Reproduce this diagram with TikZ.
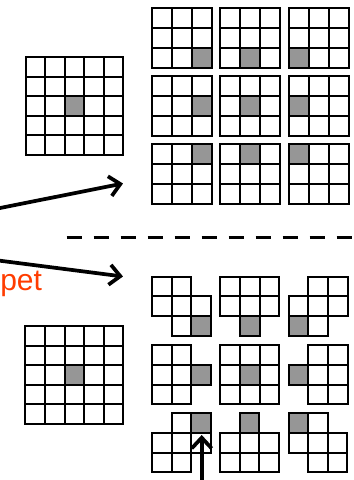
\documentclass[tikz,border=0pt]{standalone}
\usepackage{fontspec}
\setmainfont{Liberation Sans}
\usetikzlibrary{arrows.meta}
\definecolor{cellgray}{RGB}{150,150,150}
\definecolor{petred}{RGB}{255,60,0}
\tikzset{
  cellline/.style={draw=black, line width=1.5pt},
  bigarrow/.style={line width=2.8pt, -{Straight Barb[length=8pt,width=15pt,line width=2.8pt]}},
  sepline/.style={line width=2.5pt, dash pattern=on 11.25pt off 9pt},
}
\newcommand\drawpatch[6]{%
  \edef\plist{#4}%
  \foreach \c/\r in \plist{%
    \draw[cellline, fill=white] ({#1+(\c-1)*#3},{#2+(\r-1)*#3}) rectangle ++(#3,#3);
  }%
  \draw[cellline, fill=cellgray] ({#1+(#5-1)*#3},{#2+(#6-1)*#3}) rectangle ++(#3,#3);
}
\begin{document}
\begin{tikzpicture}[x=0.75pt,y=-0.75pt]
\useasboundingbox (0,0) rectangle (354,480);
\def\full{1/1,2/1,3/1,1/2,2/2,3/2,1/3,2/3,3/3}
\def\fivefull{1/1,2/1,3/1,4/1,5/1,1/2,2/2,3/2,4/2,5/2,1/3,2/3,3/3,4/3,5/3,1/4,2/4,3/4,4/4,5/4,1/5,2/5,3/5,4/5,5/5}
% left 5x5 grids
\drawpatch{26}{57}{19.5}{\fivefull}{3}{3}
\drawpatch{25.5}{326}{19.6}{\fivefull}{3}{3}
% top 3x3 grids
\drawpatch{152}{7.5}{20}{\full}{3}{3}
\drawpatch{220.3}{7.5}{20}{\full}{2}{3}
\drawpatch{288.7}{7.5}{20}{\full}{1}{3}
\drawpatch{152}{75.7}{20}{\full}{3}{2}
\drawpatch{220.3}{75.7}{20}{\full}{2}{2}
\drawpatch{288.7}{75.7}{20}{\full}{1}{2}
\drawpatch{152}{144}{20}{\full}{3}{1}
\drawpatch{220.3}{144}{20}{\full}{2}{1}
\drawpatch{288.7}{144}{20}{\full}{1}{1}
% bottom shaped patches
\drawpatch{152}{276.7}{19.7}{1/1,2/1,1/2,2/2,3/2,2/3,3/3}{3}{3}
\drawpatch{220.3}{276.7}{19.7}{1/1,2/1,3/1,1/2,2/2,3/2,2/3}{2}{3}
\drawpatch{288.7}{276.7}{19.7}{2/1,3/1,1/2,2/2,3/2,1/3,2/3}{1}{3}
\drawpatch{152}{345.3}{19.7}{1/1,2/1,1/2,2/2,3/2,1/3,2/3}{3}{2}
\drawpatch{220.3}{345.3}{19.7}{\full}{2}{2}
\drawpatch{288.7}{345.3}{19.7}{2/1,3/1,1/2,2/2,3/2,2/3,3/3}{1}{2}
\drawpatch{152}{413.3}{19.6}{2/1,3/1,1/2,2/2,3/2,1/3,2/3}{3}{1}
\drawpatch{220.3}{413.3}{19.6}{2/1,1/2,2/2,3/2,1/3,2/3,3/3}{2}{1}
\drawpatch{288.7}{413.3}{19.6}{1/1,2/1,1/2,2/2,3/2,2/3,3/3}{1}{1}
% separator
\coordinate (sepA) at (66.7,237.3);
\coordinate (sepB) at (360,237.3);
\draw[sepline] (sepA) -- (sepB);
% label
\node[anchor=base west, inner sep=0pt, text=petred, font=\fontsize{22.5}{26}\selectfont] (lbl) at (0,290) {pet};
% arrows
\coordinate (a1s) at (-4,208.8);
\coordinate (a1e) at (123,183.5);
\coordinate (a2s) at (-4,260.2);
\coordinate (a2e) at (123,276.5);
\coordinate (a3s) at (201.7,484);
\coordinate (a3e) at (201.7,435);
\draw[bigarrow] (a1s) -- (a1e);
\draw[bigarrow] (a2s) -- (a2e);
\draw[bigarrow] (a3s) -- (a3e);
\end{tikzpicture}
\end{document}
